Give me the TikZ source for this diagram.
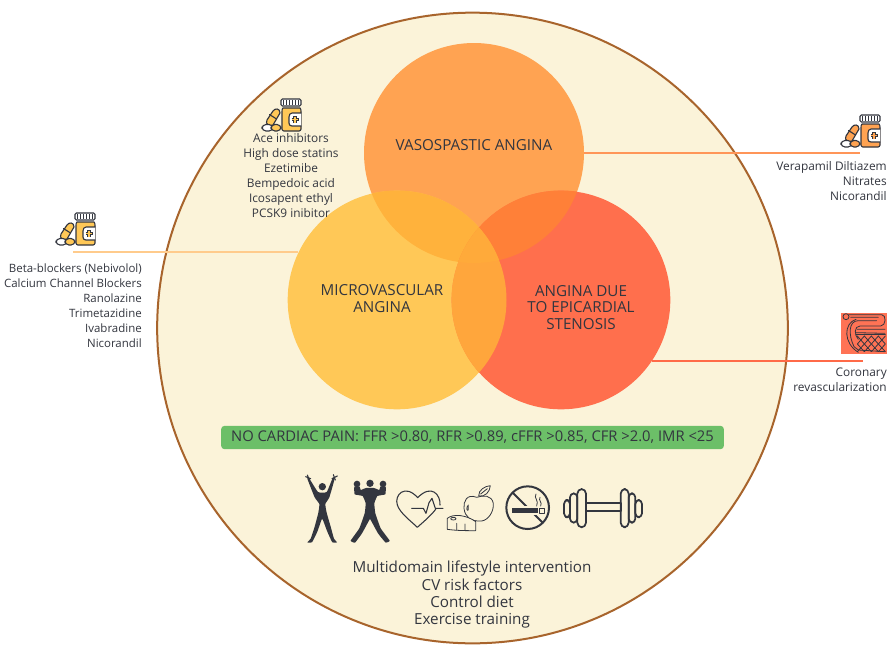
\documentclass[tikz,border=0pt]{standalone}
\usepackage{fontspec}
\setmainfont{Open Sans}
\usetikzlibrary{calc,shapes.geometric}
\definecolor{bgc}{HTML}{FBF3D9}
\definecolor{rimc}{HTML}{A8642C}
\definecolor{topc}{HTML}{FFA352}
\definecolor{leftc}{HTML}{FFC857}
\definecolor{rightc}{HTML}{FF6F4D}
\definecolor{ovtl}{HTML}{FFB23C}
\definecolor{ovtr}{HTML}{FF8038}
\definecolor{ovlr}{HTML}{FFA63C}
\definecolor{ovc}{HTML}{FFAA3A}
\definecolor{greenc}{HTML}{6CBF68}
\definecolor{inkc}{HTML}{33363F}
\definecolor{connl}{HTML}{FFCB8C}
\definecolor{connt}{HTML}{FF9558}
\definecolor{redline}{RGB}{255,106,72}
\definecolor{stentc}{HTML}{FF7355}
\tikzset{
  bubble/.style={circle,inner sep=0pt,minimum size=#1},
  bubbletext/.style={align=center,text=inkc,font=\fontsize{11.4}{12.4}\selectfont},
  drug/.style={align=right,anchor=north east,text=inkc,inner sep=0pt,font=\fontsize{8.9}{11.25}\selectfont},
  lifestyle/.style={align=center,text=inkc,font=\fontsize{11.4}{13}\selectfont},
  icon/.style={draw=inkc,line width=0.85pt,line join=round,line cap=round},
  thick icon/.style={draw=inkc,line width=#1,line join=round,line cap=round},
  conn/.style={draw=#1,line width=1.1pt},
  pics/bottle/.style={code={
    \draw[icon,fill=#1] (21,9) -- (38,9) .. controls (39,10) and (39,11) .. (39,13) -- (39,30) .. controls (39,31) and (38,32) .. (37,32) -- (22,32) .. controls (21,32) and (20,31) .. (20,30) -- (20,13) .. controls (20,11) and (20,10) .. (21,9) -- cycle;
    \draw[icon,fill=white] (39,14) -- (30,14) .. controls (28,14) and (27,16) .. (27,18) -- (27,24) .. controls (27,26) and (28,27) .. (30,27) -- (39,27);
    \draw[line width=2.5pt,draw=inkc] (33,17) -- (33,24) (29.5,20.5) -- (36.5,20.5);
    \draw[line width=1.2pt,draw=#1] (33,17.5) -- (33,23.5) (30,20.5) -- (36,20.5);
    \draw[icon,fill=white,rounded corners=1] (19,0) rectangle (39,7);
    \foreach \k in {22,25,28,31,34,37}{\draw[draw=inkc,line width=0.7pt] (\k-.5,1) -- (\k-.5,6);}
    \draw[icon,fill=#1] (11,26) -- (18,14) .. controls (18,9) and (13,9) .. (11,12) -- (5,21) .. controls (3,25) and (7,28) .. (11,26) -- cycle;
    \draw[icon] (7.5,15.5) -- (14.5,20);
    \draw[icon,fill=white,rounded corners=3] (0,25.5) rectangle (11,32);
    \draw[icon,fill=#1,rounded corners=3] (9,25.5) rectangle (19,32);
  }}
}
\begin{document}
\begin{tikzpicture}[x=0.75pt,y=-0.75pt]
\useasboundingbox (0,0) rectangle (896,653);
\fill[white] (0,0) rectangle (896,653);
% outer
\node[circle,draw=rimc,fill=bgc,line width=1.5pt,inner sep=0pt,minimum size=473pt] (outer) at (472.5,328) {};
% circles
\node[bubble=165pt,fill=topc] (vaso) at (474,153) {};
\node[bubble=164pt,fill=leftc] (micro) at (397,300) {};
\node[bubble=164pt,fill=rightc] (epi) at (561,300) {};
\begin{scope}
  \clip (474,153) circle[radius=110];
  \fill[ovtl] (397,300) circle[radius=109.5];
  \fill[ovtr] (561,300) circle[radius=109.5];
\end{scope}
\begin{scope}
  \clip (397,300) circle[radius=109.5];
  \fill[ovlr] (561,300) circle[radius=109.5];
  \clip (474,153) circle[radius=110];
  \fill[ovc] (561,300) circle[radius=109.5];
\end{scope}
% connectors
\coordinate (lend) at (73,252);
\coordinate (tend) at (860,153);
\coordinate (rend) at (863,361);
\draw[conn=connl] (micro.154) -- (lend |- micro.154);
\draw[conn=connt] (vaso.east) -- (tend |- vaso.east);
% circle labels
\node[bubbletext] (tvaso) at (474,145) {VASOSPASTIC ANGINA};
\node[bubbletext] (tmicro) at (382,298.5) {MICROVASCULAR\\ANGINA};
\node[bubbletext] (tepi) at (581,307.5) {ANGINA DUE\\TO EPICARDIAL\\STENOSIS};
% bottles
\pic at (56,213) {bottle=leftc};
\pic at (262,99) {bottle=leftc};
\pic at (841,115) {bottle=topc};
% drug lists
\node[drug,font=\fontsize{8.6}{11.25}\selectfont] (dleft) at (142,263.5) {Beta-blockers (Nebivolol)\\Calcium Channel Blockers\\Ranolazine\\Trimetazidine\\Ivabradine\\Nicorandil};
\node[drug,align=center,anchor=north] (dtop) at (291,133.5) {Ace inhibitors\\High dose statins\\Ezetimibe\\Bempedoic acid\\Icosapent ethyl\\PCSK9 inibitor};
\node[drug] (dright) at (887,161) {Verapamil Diltiazem\\Nitrates\\Nicorandil};
\node[drug] (drev) at (887,368) {Coronary\\revascularization};
% stent icon
\begin{scope}[shift={(780,300)},x=0.25pt,y=-0.25pt]
  \fill[stentc] (183,38) rectangle (320,163);
  \draw[icon,line width=0.6pt] (198,50) circle[radius=9];
  \draw[icon,line width=0.6pt] (208,44) -- (305,44) .. controls (320,44) and (318,78) .. (302,78) -- (240,78) .. controls (222,78) and (222,105) .. (235,118);
  \draw[icon,line width=0.6pt] (212,52) -- (295,52) (290,62) -- (235,62) .. controls (205,62) and (205,105) .. (222,140) -- (235,150) -- (314,155);
  \draw[icon,line width=0.6pt] (228,58) .. controls (190,70) and (190,130) .. (235,157) (232,88) -- (315,88) (228,98) -- (315,100);
  \foreach \k in {0,1,2,3}{
    \draw[icon,line width=0.6pt] (232+\k*21,108) -- (253+\k*21,132) -- (232+\k*21,155);
    \draw[icon,line width=0.6pt] (253+\k*21,108) -- (232+\k*21,132) -- (253+\k*21,155);
  }
  \draw[icon,line width=0.6pt] (228,104) -- (316,104);
\end{scope}
\draw[draw=redline,line width=1.2pt] (epi.-34) -- (rend |- epi.-34);
% green bar
\node[fill=greenc,rounded corners=2.5pt,inner sep=0pt,minimum width=377pt,minimum height=17.5pt,text=inkc,font=\fontsize{11.07}{12}\selectfont] (nopain) at (472.5,437.5) {NO CARDIAC PAIN: FFR >0.80, RFR >0.89, cFFR >0.85, CFR >2.0, IMR <25};
% lifestyle icons (traced in 3x zoom coordinates)
\begin{scope}[shift={(290,470)},x=0.25pt,y=-0.25pt]
  \fill[inkc] (97,50) circle[radius=11];
  \fill[inkc] plot[smooth cycle,tension=0.25] coordinates {(52,26) (57,24) (84,66) (110,66) (128,24) (134,26) (118,82) (106,102) (110,128) (122,170) (132,206) (141,217) (127,217) (112,185) (98,148) (95,148) (82,185) (66,217) (52,217) (62,206) (74,170) (85,128) (88,102) (74,82)};
  \draw[thick icon=0.8pt] (47,20) -- (62,26) (52,15) -- (58,30) (126,26) -- (142,18) (130,14) -- (136,30);
  \fill[inkc] (240,40) circle[radius=11] (201,42) circle[radius=10] (279,42) circle[radius=10];
  \fill[inkc] plot[smooth cycle,tension=0.2] coordinates {(193,50) (209,50) (212,60) (228,54) (252,54) (268,60) (271,50) (287,50) (286,73) (262,78) (253,100) (256,130) (272,175) (299,212) (287,218) (264,190) (241,148) (239,148) (216,190) (195,218) (182,212) (208,175) (224,130) (227,100) (218,78) (194,73)};
  % heart
  \draw[thick icon=0.8pt] (450,105) .. controls (452,75) and (425,40) .. (383,83) .. controls (345,40) and (312,75) .. (322,105) .. controls (330,130) and (365,155) .. (382,172) .. controls (395,160) and (420,140) .. (437,118);
  \draw[thick icon=0.8pt] (365,115) -- (400,115) -- (408,130) -- (417,98) -- (426,85) -- (436,115) -- (459,115);
  % apple and tape
  \draw[thick icon=0.6pt] (560,82) .. controls (530,70) and (520,95) .. (522,115) .. controls (525,140) and (540,155) .. (575,153) .. controls (595,150) and (612,125) .. (610,100) .. controls (605,75) and (580,75) .. (560,82);
  \draw[thick icon=0.6pt] (535,105) .. controls (528,112) and (530,125) .. (535,120) -- cycle;
  \draw[thick icon=0.6pt,fill=bgc] (566,78) .. controls (565,60) and (585,48) .. (601,47) .. controls (600,65) and (585,82) .. (566,78) -- cycle (572,72) -- (592,56);
  \draw[thick icon=0.6pt,fill=bgc] (472,145) .. controls (490,130) and (530,135) .. (557,155) -- (557,182) .. controls (530,182) and (500,182) .. (472,178) -- cycle;
  \draw[thick icon=0.6pt] (490,146) ellipse (8 and 4) (500,160) -- (500,180) (525,162) -- (525,180);
  % no smoking
  \draw[thick icon=1.5pt] (713,113) circle[radius=64];
  \draw[thick icon=1.5pt] (668,68) -- (758,158);
  \fill[bgc] (672,109) rectangle (754,135);
  \fill[inkc] (667,115) rectangle (745,129);
  \draw[thick icon=0.5pt] (747,115) rectangle (762,129);
  \draw[thick icon=0.6pt] (738,72) .. controls (730,85) and (748,90) .. (740,108) (750,82) .. controls (744,92) and (758,96) .. (752,108);
  % dumbbell
  \draw[thick icon=1.3pt,rounded corners=3pt] (822,90) rectangle (840,142);
  \draw[thick icon=1.3pt,rounded corners=3pt] (840,70) rectangle (862,158);
  \draw[thick icon=1.3pt,rounded corners=3.5pt] (862,57) rectangle (888,172);
  \draw[thick icon=1.3pt] (888,100) rectangle (992,124);
  \draw[thick icon=1.3pt,rounded corners=3.5pt] (992,57) rectangle (1016,172);
  \draw[thick icon=1.3pt,rounded corners=3pt] (1016,70) rectangle (1036,158);
  \draw[thick icon=1.3pt,rounded corners=3pt] (1036,90) rectangle (1056,142);
\end{scope}
% lifestyle text
\node[lifestyle] (life) at (472,595) {Multidomain lifestyle intervention\\CV risk factors\\Control diet\\Exercise training};
\end{tikzpicture}
\end{document}
